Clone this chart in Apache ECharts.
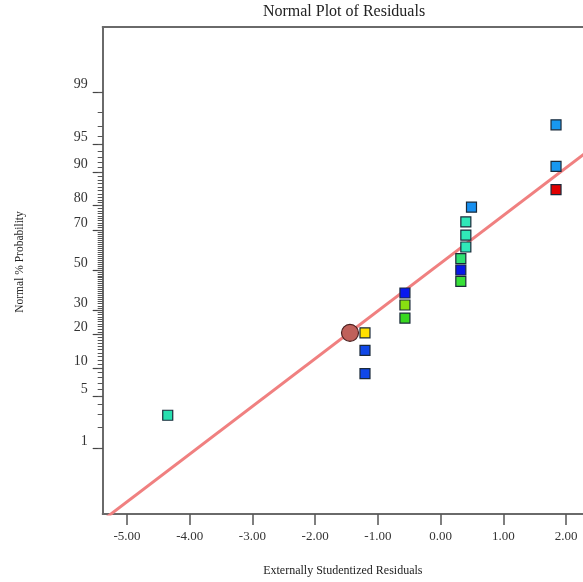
<!DOCTYPE html>
<html>
<head>
<meta charset="utf-8">
<script src="https://cdn.jsdelivr.net/npm/echarts@6/dist/echarts.min.js"></script>
<style>html,body{margin:0;padding:0;background:#fff}#c{width:583px;height:582px}</style>
</head>
<body>
<div id="c"></div>
<script>
// ---- data ----
const residualX = [-4.35, -1.205, -1.205, -1.205, -0.568, -0.568, -0.568, 0.323, 0.323, 0.323, 0.403, 0.403, 0.403, 0.493, 1.841, 1.841, 1.841];
const normalPct = [2.9, 8.8, 14.7, 20.6, 26.5, 32.4, 38.2, 44.1, 50.0, 55.9, 61.8, 67.6, 73.5, 79.4, 85.3, 91.2, 97.1];
const pointColors = ['#28e0b0', '#1048e8', '#1048e8', '#ffe000', '#38d820', '#88e010', '#0818f0', '#38e038', '#0818e8', '#30e070', '#30e8b8', '#30e8b8', '#30e8b8', '#1890f0', '#e00000', '#1898f0', '#1898f0'];
const highlightX = [-1.444];
const highlightPct = [20.6];
const fitLineX = [-5.387, 2.366];
const fitLinePct = [0.0543, 94.1];
const xTicks = [-5, -4, -3, -2, -1, 0, 1, 2];
const yMajorPct = [1, 5, 10, 20, 30, 50, 70, 80, 90, 95, 99];
const xRange = [-5.387, 2.271];
const yRangeZ = [-3.185, 3.172];

// inverse normal CDF (Acklam)
function probit(p) {
  const a = [-3.969683028665376e+01, 2.209460984245205e+02, -2.759285104469687e+02, 1.383577518672690e+02, -3.066479806614716e+01, 2.506628277459239e+00];
  const b = [-5.447609879822406e+01, 1.615858368580409e+02, -1.556989798598866e+02, 6.680131188771972e+01, -1.328068155288572e+01];
  const c = [-7.784894002430293e-03, -3.223964580411365e-01, -2.400758277161838e+00, -2.549732539343734e+00, 4.374664141464968e+00, 2.938163982698783e+00];
  const d = [7.784695709041462e-03, 3.224671290700398e-01, 2.445134137142996e+00, 3.754408661907416e+00];
  const pl = 0.02425, ph = 1 - pl;
  let q, r;
  if (p < pl) {
    q = Math.sqrt(-2 * Math.log(p));
    return (((((c[0]*q+c[1])*q+c[2])*q+c[3])*q+c[4])*q+c[5]) / ((((d[0]*q+d[1])*q+d[2])*q+d[3])*q+1);
  } else if (p <= ph) {
    q = p - 0.5; r = q*q;
    return (((((a[0]*r+a[1])*r+a[2])*r+a[3])*r+a[4])*r+a[5])*q / (((((b[0]*r+b[1])*r+b[2])*r+b[3])*r+b[4])*r+1);
  } else {
    q = Math.sqrt(-2 * Math.log(1 - p));
    return -(((((c[0]*q+c[1])*q+c[2])*q+c[3])*q+c[4])*q+c[5]) / ((((d[0]*q+d[1])*q+d[2])*q+d[3])*q+1);
  }
}

const minorPct = [];
for (let i = 1; i <= 99; i++) minorPct.push(i);
const majorZ = yMajorPct.map(p => probit(p / 100));
const minorZ = minorPct.map(p => probit(p / 100));

const FONT = '"Liberation Serif", "Times New Roman", serif';

const pointData = residualX.map((x, i) => ({
  value: [x, probit(normalPct[i] / 100)],
  itemStyle: { color: pointColors[i] }
}));

const chart = echarts.init(document.getElementById('c'), null, { renderer: 'canvas' });
chart.setOption({
  animation: false,
  backgroundColor: '#fff',
  title: {
    text: 'Normal Plot of Residuals',
    left: 344, top: 0, textAlign: 'center',
    padding: [4, 0, 0, 0],
    textStyle: { fontFamily: FONT, fontSize: 16, fontWeight: 'normal', color: '#222' }
  },
  grid: {
    left: 102.7, right: 0, top: 27, bottom: 68, show: false
  },
  xAxis: [{
    type: 'value', min: xRange[0], max: xRange[1], position: 'bottom',
    name: 'Externally Studentized Residuals', nameLocation: 'middle', nameGap: 51,
    nameTextStyle: { fontFamily: FONT, fontSize: 12, color: '#222' },
    axisLine: { onZero: false, lineStyle: { color: '#6a6a6a', width: 2 } },
    axisTick: { customValues: xTicks, length: 11, lineStyle: { color: '#555', width: 1.5 } },
    axisLabel: { customValues: xTicks, margin: 16, fontFamily: FONT, fontSize: 13, color: '#333',
      formatter: v => v.toFixed(2) },
    splitLine: { show: false }
  }, {
    type: 'value', min: xRange[0], max: xRange[1], position: 'top',
    axisLine: { show: true, onZero: false, lineStyle: { color: '#6a6a6a', width: 2 } },
    axisTick: { show: false }, axisLabel: { show: false }, splitLine: { show: false }
  }],
  yAxis: [{
    type: 'value', min: yRangeZ[0], max: yRangeZ[1], position: 'left',
    axisLine: { show: true, onZero: false, lineStyle: { color: '#6a6a6a', width: 2 } },
    axisTick: { show: true, customValues: majorZ, length: 10, lineStyle: { color: '#444', width: 1.2 } },
    axisLabel: { customValues: majorZ, margin: 15, fontFamily: FONT, fontSize: 14, color: '#333',
      verticalAlign: 'bottom',
      formatter: v => {
        let best = 0, bd = Infinity;
        majorZ.forEach((z, i) => { const d = Math.abs(z - v); if (d < bd) { bd = d; best = i; } });
        return String(yMajorPct[best]);
      } },
    splitLine: { show: false }
  }, {
    type: 'value', min: yRangeZ[0], max: yRangeZ[1], position: 'left', offset: 0,
    axisLine: { show: false, onZero: false },
    axisTick: { show: true, customValues: minorZ, length: 5, lineStyle: { color: '#555', width: 1 } },
    axisLabel: { show: false },
    splitLine: { show: false }
  }],
  graphic: [{
    type: 'text', x: 20, y: 262, rotation: Math.PI / 2,
    style: { text: 'Normal % Probability', fontFamily: FONT, fontSize: 11.5, fill: '#222',
      textAlign: 'center', textVerticalAlign: 'middle' }
  }],
  series: [{
    type: 'line', xAxisIndex: 0, yAxisIndex: 0,
    data: fitLineX.map((x, i) => [x, probit(fitLinePct[i] / 100)]),
    showSymbol: false, symbol: 'none', clip: true,
    lineStyle: { color: '#f08080', width: 3 }, z: 2, silent: true
  }, {
    type: 'scatter', xAxisIndex: 0, yAxisIndex: 0,
    data: highlightX.map((x, i) => [x, probit(highlightPct[i] / 100)]),
    symbol: 'circle', symbolSize: 17,
    itemStyle: { color: '#c0605a', borderColor: '#4a2020', borderWidth: 1.2, opacity: 1 }, z: 3
  }, {
    type: 'scatter', xAxisIndex: 0, yAxisIndex: 0, data: pointData,
    symbol: 'rect', symbolSize: 10,
    itemStyle: { borderColor: '#1a2a3a', borderWidth: 1.2, opacity: 1 }, z: 4
  }]
});
</script>
</body>
</html>
